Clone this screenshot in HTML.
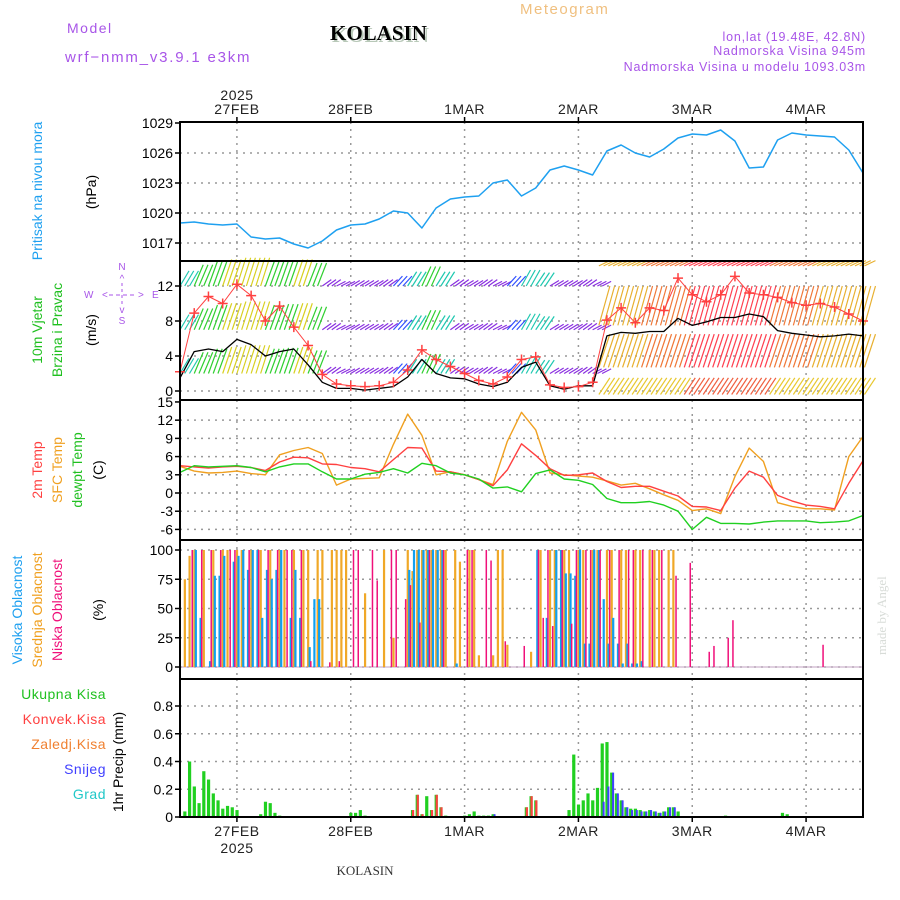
<!DOCTYPE html>
<html><head><meta charset="utf-8">
<style>
html,body{margin:0;padding:0;background:#fff;}
#wrap{position:relative;width:900px;height:900px;overflow:hidden;font-family:"Liberation Sans",sans-serif;}
svg text{font-family:"Liberation Sans",sans-serif;}
</style></head>
<body>
<div id="wrap">
<svg id="chart" width="900" height="900" viewBox="0 0 900 900" xmlns="http://www.w3.org/2000/svg">
  <text x="67" y="33" font-size="14" fill="#a855e8" letter-spacing="1.5">Model</text>
  <text x="65" y="62" font-size="15" fill="#a855e8" letter-spacing="1.8">wrf−nmm_v3.9.1 e3km</text>
  <text x="332" y="42" font-size="21" font-weight="bold" fill="#b8c8b8" style="font-family:'Liberation Serif',serif">KOLASIN</text>
  <text x="330" y="40" font-size="21" font-weight="bold" fill="#000" style="font-family:'Liberation Serif',serif">KOLASIN</text>
  <text x="520" y="14" font-size="15" fill="#f0c080" letter-spacing="1.5">Meteogram</text>
  <text x="866" y="41" font-size="12.5" fill="#a855e8" text-anchor="end" letter-spacing="0.8">lon,lat (19.48E, 42.8N)</text>
  <text x="866" y="55" font-size="12.5" fill="#a855e8" text-anchor="end" letter-spacing="0.8">Nadmorska Visina 945m</text>
  <text x="866" y="71" font-size="12.5" fill="#a855e8" text-anchor="end" letter-spacing="0.8">Nadmorska Visina u modelu 1093.03m</text>
  <text x="237" y="100" font-size="14" text-anchor="middle" fill="#222" letter-spacing="0.5">2025</text>
  <text x="237" y="853" font-size="14" text-anchor="middle" fill="#222" letter-spacing="0.5">2025</text>
  <text x="365" y="875" font-size="13" text-anchor="middle" fill="#333" style="font-family:'Liberation Serif',serif">KOLASIN</text>
  <text transform="translate(886,655) rotate(-90)" font-size="13" fill="#d8dcd8" style="font-family:'Liberation Serif',serif">made by Angel</text>
  <text transform="translate(42,191) rotate(-90)" font-size="14" fill="#1ea0f0" text-anchor="middle">Pritisak na nivou mora</text>
  <text transform="translate(96,192) rotate(-90)" font-size="14" fill="#000" text-anchor="middle">(hPa)</text>
  <text transform="translate(42,330) rotate(-90)" font-size="14" fill="#20c020" text-anchor="middle">10m Vjetar</text>
  <text transform="translate(62,330) rotate(-90)" font-size="14" fill="#20c020" text-anchor="middle">Brzina i Pravac</text>
  <text transform="translate(96,330) rotate(-90)" font-size="14" fill="#000" text-anchor="middle">(m/s)</text>
  <g fill="#a855e8" font-size="10">
    <text x="122" y="270" text-anchor="middle">N</text>
    <text x="122" y="282" text-anchor="middle">^</text>
    <text x="84" y="298">W</text><text x="102" y="298">&lt;</text><text x="138" y="298">&gt;</text><text x="152" y="298">E</text>
    <line x1="109" y1="295" x2="135" y2="295" stroke="#a855e8" stroke-dasharray="4,3"/>
    <text x="122" y="313" text-anchor="middle">v</text>
    <text x="122" y="324" text-anchor="middle">S</text>
    <line x1="122" y1="283" x2="122" y2="306" stroke="#a855e8" stroke-dasharray="3,3"/>
  </g>
  <text transform="translate(42,470) rotate(-90)" font-size="14" fill="#ff4040" text-anchor="middle">2m Temp</text>
  <text transform="translate(62,470) rotate(-90)" font-size="14" fill="#f0a020" text-anchor="middle">SFC Temp</text>
  <text transform="translate(82,470) rotate(-90)" font-size="14" fill="#20c020" text-anchor="middle">dewpt Temp</text>
  <text transform="translate(103,470) rotate(-90)" font-size="14" fill="#000" text-anchor="middle">(C)</text>
  <text transform="translate(22,610) rotate(-90)" font-size="14" fill="#1ea0f0" text-anchor="middle">Visoka Oblacnost</text>
  <text transform="translate(42,610) rotate(-90)" font-size="14" fill="#f0a020" text-anchor="middle">Srednja Oblacnost</text>
  <text transform="translate(62,610) rotate(-90)" font-size="14" fill="#f0107a" text-anchor="middle">Niska Oblacnost</text>
  <text transform="translate(103,610) rotate(-90)" font-size="14" fill="#000" text-anchor="middle">(%)</text>
  <g font-size="14" text-anchor="end" letter-spacing="0.5">
    <text x="106" y="699" fill="#20c020">Ukupna Kisa</text>
    <text x="106" y="724" fill="#ff4040">Konvek.Kisa</text>
    <text x="106" y="749" fill="#f08030">Zaledj.Kisa</text>
    <text x="106" y="774" fill="#4040ff">Snijeg</text>
    <text x="106" y="799" fill="#20c8c8">Grad</text>
  </g>
  <text transform="translate(123,762) rotate(-90)" font-size="14" fill="#000" text-anchor="middle">1hr Precip (mm)</text>
  <g id="plot"></g>
</svg>
</div>
<script>
const dayLabels = ['27FEB','28FEB','1MAR','2MAR','3MAR','4MAR'];
const pressTicks = [1017,1020,1023,1026,1029];
const windTicks = [0,4,8,12];
const tempTicks = [-6,-3,0,3,6,9,12,15];
const cloudTicks = [0,25,50,75,100];
const precipTicks = [0,0.2,0.4,0.6,0.8];
const pressure = [1019.0,1019.1,1018.9,1018.8,1018.9,1017.6,1017.4,1017.5,1016.9,1016.5,1017.2,1018.3,1018.8,1018.9,1019.4,1020.2,1020.0,1018.5,1020.5,1021.4,1021.6,1021.7,1023.0,1023.3,1021.7,1022.5,1024.3,1024.7,1024.3,1023.8,1026.2,1026.8,1026.0,1025.6,1026.4,1027.5,1027.9,1027.8,1028.3,1027.2,1024.5,1024.6,1027.3,1028.0,1027.8,1027.7,1027.6,1026.3,1024.0];
const windSpeed = [1.5,4.5,4.8,4.5,5.9,5.3,4.0,4.5,4.8,3.0,1.0,0.3,0.3,0.1,0.3,0.5,1.6,3.6,2.0,1.5,1.4,0.8,0.5,1.0,2.7,3.3,0.6,0.2,0.6,0.6,6.3,6.7,6.6,6.8,6.8,8.3,7.5,7.9,8.4,8.4,8.8,8.5,6.9,6.6,6.4,6.2,6.3,6.5,6.3];
const windGust = [2.2,8.9,10.8,10.0,12.2,10.9,8.0,9.7,7.3,5.2,1.9,0.8,0.6,0.5,0.6,1.0,2.4,4.7,3.6,2.8,2.0,1.2,0.8,1.6,3.6,3.9,0.7,0.4,0.5,1.0,8.1,9.5,7.8,9.5,9.2,12.9,11.0,10.2,11.0,13.1,11.2,11.0,10.7,10.1,9.8,10.0,9.6,8.8,8.0];
const barbBand1 = [1.5,2.2,2.6,2.8,3.0,3.0,2.6,2.7,2.8,2.4,0.5,0.3,0.4,0.4,0.5,0.9,1.4,2.0,1.4,0.5,0.4,0.5,0.3,0.9,1.6,1.3,0.4,0.4,0.5,0.3];
const barbSpeed2 = [8,8,8,9,9,10,11,12,12,12,11,11,10,9,9,8,8,8,8];
const temp2m = [4.5,4.3,4.1,4.3,4.4,4.2,3.7,5.1,5.9,5.8,4.8,4.7,4.2,4.0,3.5,5.5,7.5,7.4,3.6,3.5,3.0,2.2,1.2,3.8,8.1,6.2,4.0,2.9,3.0,3.3,1.9,0.9,1.1,1.1,0.3,-0.5,-2.2,-2.3,-2.9,0.8,3.6,2.6,-0.4,-1.3,-2.0,-2.2,-2.6,1.6,5.3];
const tempSfc = [4.4,3.6,3.3,3.4,3.6,3.2,3.0,6.3,7.0,7.5,6.5,1.3,2.3,2.4,2.5,8.0,13.0,9.5,3.0,3.5,3.0,2.2,1.4,8.5,13.3,10.4,3.3,3.0,2.8,2.6,2.0,1.3,1.6,0.7,-0.3,-1.2,-2.9,-2.6,-3.4,2.7,7.4,5.2,-1.6,-2.2,-2.6,-2.6,-2.8,6.0,9.3];
const tempDew = [3.4,4.5,4.3,4.4,4.5,4.2,3.5,4.3,4.8,4.8,3.5,2.3,2.3,3.1,3.4,4.0,3.3,4.9,4.5,3.3,3.0,2.3,0.8,1.0,0.2,3.2,3.8,2.3,2.1,1.4,-0.9,-1.6,-1.6,-1.4,-2.0,-3.0,-6.0,-4.0,-5.0,-5.0,-5.1,-4.8,-4.6,-4.6,-4.6,-4.9,-4.8,-4.6,-3.7];
const cloudHigh = [0,0,0,100,42,0,5,78,78,95,0,90,95,100,83,100,100,42,83,75,83,100,0,42,83,42,0,17,58,58,
 0,0,0,0,0,0,0,0,0,0,0,0,0,0,0,0,
 0,0,83,100,100,100,100,100,100,100,0,0,3,0,0,
 0,0,0,0,0,0,0,0,0,0,0,0,0,0,
 100,0,42,0,100,100,80,80,78,100,20,20,100,100,58,20,42,20,3,20,3,3,5,0,0,0,0,0,0,0,
 0,0,0,0,0,0,0,0,0,0,0,0,0,0,0,0,0,0,0,0,0,0,0,0,0,0,0,0,0,0,0,0,0,0,0,0,0,0,0,0];
const cloudMid = [0,75,95,100,0,100,0,100,0,100,100,0,100,100,0,100,0,100,0,100,0,100,100,0,100,0,100,100,0,100,
 100,0,100,100,100,100,0,0,0,63,0,0,0,100,0,25,
 0,0,100,82,100,100,100,100,100,100,100,0,100,90,0,
 100,100,10,0,0,10,100,100,19,0,0,0,0,13,
 0,100,0,100,100,0,100,100,0,100,100,0,100,100,0,100,100,0,100,100,0,100,100,0,100,100,100,0,100,100,
 0,0,0,0,0,0,0,0,0,0,0,0,0,0,0,0,0,0,0,0,0,0,0,0,0,0,0,0,0,0,0,0,0,0,0,0,0,0,0,0];
const cloudLow = [0,0,100,0,100,0,100,0,100,0,100,100,0,0,100,0,100,0,100,0,100,0,100,100,0,100,0,5,0,0,
 0,4,0,5,0,0,100,100,0,0,100,74,0,0,100,100,
 0,58,70,0,38,0,100,0,0,100,0,0,0,0,100,
 100,0,0,100,91,0,0,22,0,0,0,18,0,0,
 100,42,100,35,0,100,0,37,100,0,100,100,0,100,0,100,0,100,0,100,100,0,100,0,100,0,100,0,0,78,
 0,0,89,0,0,0,13,18,0,0,25,40,0,0,0,0,0,0,0,0,0,0,0,0,0,0,0,0,0,0,19,0,0,0,0,0,0,0,0,0];
const precipTotal = [0,0.04,0.40,0.22,0.10,0.33,0.27,0.17,0.12,0.06,0.08,0.07,0.05,0,0,0,0,0.02,0.11,0.10,0.03,0.01,0,0,0,0,0,0,0,0,
 0,0,0,0,0,0,0.03,0.03,0.05,0.01,0,0,0,0,0,0,0,0,0,0.05,0.16,0.02,0.15,0.05,0.16,0.07,0.01,0,0,0,
 0.01,0.02,0.04,0.01,0.01,0.01,0.02,0,0,0,0,0,0,0.07,0.15,0.12,0,0,0,0,0,0,0.05,0.45,0.09,0.12,0.17,0.12,0.21,0.53,
 0.54,0.32,0.17,0.12,0.07,0.06,0.06,0.05,0.04,0.05,0.04,0.03,0.04,0.07,0.07,0.04,0,0,0,0,0,0,0,0,0,0.01,0,0,0,0,
 0,0,0,0,0,0,0,0.03,0.02,0,0,0,0,0,0];
const precipConv = [0,0,0,0,0,0,0,0,0,0,0,0,0,0,0,0,0,0,0,0,0,0,0,0,0,0,0,0,0,0,
 0,0,0,0,0,0,0,0,0,0,0,0,0,0,0,0,0,0,0,0.05,0.16,0.02,0,0.05,0.16,0.07,0,0,0,0,
 0,0,0,0,0,0,0,0,0,0,0,0,0,0.07,0.15,0.12,0,0,0,0,0,0,0,0,0,0,0,0,0,0,
 0,0,0,0,0,0,0,0,0,0,0,0,0,0,0,0,0,0,0,0,0,0,0,0,0,0,0,0,0,0,
 0,0,0,0,0,0,0,0,0,0,0,0,0,0,0];
const precipSnow = [0,0,0,0,0,0,0,0,0,0,0,0,0,0,0,0,0,0,0,0,0,0,0,0,0,0,0,0,0,0,
 0,0,0,0,0,0,0,0,0,0,0,0,0,0,0,0,0,0,0,0,0,0,0,0,0,0,0,0,0,0,
 0,0,0,0,0,0,0.02,0,0,0,0,0,0,0,0,0,0,0,0,0,0,0,0,0,0,0,0,0,0,0.11,
 0.22,0.32,0.17,0.12,0.07,0.05,0.05,0.04,0.04,0.05,0.04,0.03,0.04,0.07,0.07,0,0,0,0,0,0,0,0,0,0,0,0,0,0,0,
 0,0,0,0,0,0,0,0,0,0,0,0,0,0,0];

const NS='http://www.w3.org/2000/svg';
const plot=document.getElementById('plot');
const X0=180,X1=863,HOURS=144;
function xT(t){return X0+t*(X1-X0)/HOURS;}
function yP(v){return 123+(1029-v)*10;}
function yW(v){return 391-v*8.75;}
function yT(v){return 493-v*6.07;}
function yC(v){return 667-v*1.17;}
function yR(v){return 817-v*138.75;}
function mk(tag,attrs){const e=document.createElementNS(NS,tag);for(const k in attrs)e.setAttribute(k,attrs[k]);plot.appendChild(e);return e;}
const panels=[{y0:122,y1:261,f:yP,ticks:pressTicks,name:'pressure'},{y0:261,y1:400,f:yW,ticks:windTicks,name:'wind'},{y0:400,y1:540,f:yT,ticks:tempTicks,name:'temperature'},{y0:540,y1:679,f:yC,ticks:cloudTicks,name:'cloud'},{y0:679,y1:817,f:yR,ticks:precipTicks,name:'precip'}];
const dayX=[];for(let i=0;i<6;i++)dayX.push(xT(12+24*i));
panels.forEach(p=>{
  dayX.forEach(x=>{const g=mk('line',{x1:x,y1:p.y0,x2:x,y2:p.y1,stroke:'#999','stroke-width':1.5,'stroke-dasharray':'2,5'});
    
    });
  p.ticks.forEach(v=>{const y=p.f(v);
    if(y>p.y0+2&&y<p.y1-2){const g=mk('line',{x1:X0,y1:y,x2:X1,y2:y,stroke:'#999','stroke-width':1.5,'stroke-dasharray':'2,5'});
      
      }
    const tk=mk('line',{x1:X0-5,y1:y,x2:X0,y2:y,stroke:'#000','stroke-width':1.5});
    
    
    const lb=mk('text',{x:X0-7,y:y+5,'font-size':14,'text-anchor':'end',fill:'#000'});
    lb.textContent=String(v);
    
    
  });
});
dayLabels.forEach((d,i)=>{
  const a=mk('text',{x:dayX[i],y:114,'font-size':14,'text-anchor':'middle',fill:'#222','letter-spacing':0.5});a.textContent=d;
  
  
  const b=mk('text',{x:dayX[i],y:836,'font-size':14,'text-anchor':'middle',fill:'#222','letter-spacing':0.5});b.textContent=d;
  
  
});
function poly(arr,fy,color,w){
  const pts=arr.map((v,i)=>xT(i*3).toFixed(1)+','+fy(v).toFixed(1)).join(' ');
  return mk('polyline',{points:pts,fill:'none',stroke:color,'stroke-width':w||1.4,'stroke-linejoin':'round'});}
const pl=poly(pressure,yP,'#1ea0f0',1.5);


function bandColor(h){return h<0.7?'#8a30e0':h<1.2?'#3050ff':h<2.0?'#20c8b0':h<2.75?'#30d030':'#d8d020';}
[2,7,12].forEach(base=>{
  barbBand1.forEach((h,i)=>{const x=xT(i*3),c=bandColor(h);
    for(let k=0;k<3;k++){const xx=x+k*4.74;
      const b=mk('line',{x1:xx,y1:yW(base),x2:xx+9,y2:yW(base+h)-2,stroke:c,'stroke-width':1.2});
      
      }
  });
});
const rows2=[{top:14.9,d:0.6},{top:12,d:4.5},{top:6.5,d:3.8},{top:1.5,d:1.9}];
function c2(s){return s>=11?'#ff4050':s>=9?'#f07838':'#e8b030';}
rows2.forEach((r,ri)=>{
  barbSpeed2.forEach((s,i)=>{const x=xT(90+i*3),c=ri==3?(s>=11?'#f06040':'#e8c830'):c2(s);
    for(let k=0;k<3;k++){const xx=x+k*4.74;
      const b=mk('line',{x1:xx+3,y1:yW(r.top),x2:xx-8,y2:Math.min(399,yW(r.top-r.d)),stroke:c,'stroke-width':1.2});
      
      }
  });
});
const ws=poly(windSpeed,yW,'#000',1.3);


const wg=poly(windGust,yW,'#ff4040',1);


windGust.forEach((v,i)=>{const x=xT(i*3),y=yW(v);
  const c=mk('path',{d:`M${x-5},${y}H${x+5}M${x},${y-5}V${y+5}`,stroke:'#ff4040','stroke-width':1.5});
  
  });
const ts=poly(tempSfc,yT,'#f0a020',1.4);


const tr=poly(temp2m,yT,'#ff4040',1.4);


const td=poly(tempDew,yT,'#20d020',1.4);


const base0=mk('line',{x1:X0,y1:yC(0),x2:X1,y2:yC(0),stroke:'#c0a0c0','stroke-width':1});


function cbar(arr,off,color,w,name){arr.forEach((v,t)=>{if(v<=0)return;const x=xT(t)+off;
  const b=mk('rect',{x:x,y:yC(v),width:w,height:yC(0)-yC(v),fill:color});
  
  });}
cbar(cloudMid,-1,'#f0a828',2.2,'cloud-mid-bar');
cbar(cloudHigh,0.5,'#10a0f0',2.2,'cloud-high-bar');
cbar(cloudLow,2,'#f0107a',1.5,'cloud-low-bar');
function pbar(arr,off,color,w,name){arr.forEach((v,t)=>{if(v<=0)return;const x=xT(t)+off;
  const b=mk('rect',{x:x,y:yR(v),width:w,height:yR(0)-yR(v),fill:color});
  
  });}
pbar(precipTotal,-1.5,'#20d020',3.2,'precip-total-bar');
pbar(precipConv,-0.5,'#ff4040',2.2,'precip-convective-bar');
pbar(precipSnow,0.5,'#4040ff',2,'precip-snow-bar');
panels.forEach(p=>{const f=mk('rect',{x:X0,y:p.y0,width:X1-X0,height:p.y1-p.y0,fill:'none',stroke:'#000','stroke-width':2});
  
  });
dayX.forEach(x=>{[[122,117],[817,822]].forEach(([a,b])=>{const t=mk('line',{x1:x,y1:a,x2:x,y2:b,stroke:'#000','stroke-width':1.5});
  
  });});
</script>
</body></html>
